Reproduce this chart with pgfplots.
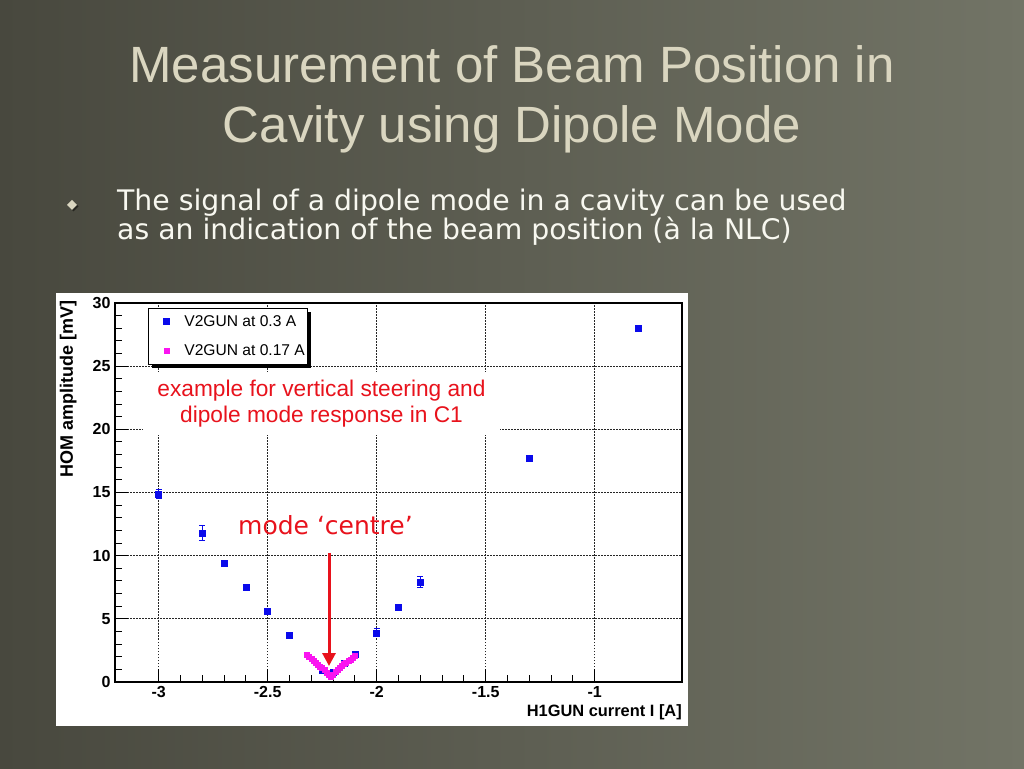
\documentclass[border=0pt]{standalone}
\usepackage{pgfplots}
\pgfplotsset{compat=1.18}
\usepackage{fontspec}
\setmainfont{Liberation Sans}
\newfontfamily\verd{DejaVu Sans}
\usetikzlibrary{shadows, arrows.meta}

\definecolor{bgL}{RGB}{72,72,62}
\definecolor{bgR}{RGB}{114,116,102}
\definecolor{titlec}{RGB}{218,214,192}
\definecolor{shadowc}{RGB}{38,38,32}
\definecolor{bullc}{RGB}{248,248,240}
\definecolor{rootred}{RGB}{232,18,28}
\definecolor{rootblue}{RGB}{10,10,235}
\definecolor{rootmag}{RGB}{250,20,240}

% HOM amplitude vs H1GUN current, V2GUN at 0.3 A
\pgfplotstableread{
x     y     e
-3.0  14.9  0.35
-2.8  11.8  0.6
-2.7  9.4   0.2
-2.6  7.5   0.12
-2.5  5.6   0.2
-2.4  3.7   0.2
-2.25 0.9   0.15
-2.2  0.8   0.15
-2.15 1.5   0.15
-2.1  2.2   0.25
-2.0  3.9   0.3
-1.9  5.9   0.2
-1.8  7.9   0.45
-1.3  17.7  0.1
-0.8  28.0  0.15
}\vgunA

% V2GUN at 0.17 A, fine scan around the minimum
\pgfplotstableread{
x      y
-2.32  2.2
-2.31  2.0
-2.30  1.85
-2.29  1.7
-2.28  1.55
-2.27  1.4
-2.26  1.25
-2.25  1.1
-2.24  0.95
-2.23  0.75
-2.22  0.55
-2.21  0.45
-2.20  0.6
-2.19  0.8
-2.18  1.0
-2.17  1.15
-2.16  1.3
-2.15  1.45
-2.14  1.55
-2.13  1.65
-2.12  1.8
-2.11  1.9
-2.10  2.05
}\vgunB

\begin{document}
\begin{tikzpicture}
% slide background (1pt = 1px)
\shade[left color=bgL, right color=bgR] (0pt,0pt) rectangle (1024pt,768pt);
\useasboundingbox (0pt,0pt) rectangle (1024pt,768pt);

% title
\begin{scope}[font=\fontsize{51}{60}\selectfont]
\node[anchor=base, text=titlec] at (512pt,685pt) {Measurement of Beam Position in};
\node[anchor=base, text=titlec] at (512pt,625pt) {Cavity using Dipole Mode};
\end{scope}

% bullet
\fill[shadowc] (73.5pt,566.5pt) -- (78.5pt,561.5pt) -- (73.5pt,556.5pt) -- (68.5pt,561.5pt) -- cycle;
\fill[titlec] (72pt,568pt) -- (77pt,563pt) -- (72pt,558pt) -- (67pt,563pt) -- cycle;
\begin{scope}[font=\verd\fontsize{28.3}{30}\selectfont, inner sep=0pt]
\node[anchor=base west, text=bullc] at (117pt,557pt) {The signal of a dipole mode in a cavity can be used};
\node[anchor=base west, text=bullc] at (117pt,528pt) {as an indication of the beam position (à la NLC)};
\end{scope}

% white panel of the pasted chart
\fill[white] (56pt,42pt) rectangle (688pt,475pt);

\begin{axis}[
  at={(115pt,86pt)}, anchor=south west,
  scale only axis, width=567pt, height=379pt,
  xmin=-3.2, xmax=-0.6, ymin=0, ymax=30,
  xtick={-3,-2.5,-2,-1.5,-1},
  xticklabels={-3,-2.5,-2,-1.5,-1},
  ytick={0,5,10,15,20,25,30},
  yticklabels={0,5,10,15,20,25,30},
  minor x tick num=4, minor y tick num=4,
  xtick pos=bottom, ytick pos=left,
  tick align=inside,
  major tick length=13pt, minor tick length=7pt,
  tick style={black, line width=1pt},
  axis line style={line width=1.5pt},
  grid=major,
  major grid style={black!85, line width=0.9pt, dash pattern=on 1.5pt off 1.5pt},
  ticklabel style={font=\fontsize{16}{16}\selectfont\bfseries},
  xticklabel style={yshift=-1pt},
  yticklabel style={xshift=-1pt},
  xlabel={H1GUN current I [A]},
  xlabel style={at={(axis description cs:1,-0.0923)}, anchor=base east,
    inner sep=0pt, font=\fontsize{16.4}{16.4}\selectfont\bfseries},
  ylabel={HOM amplitude [mV]},
  ylabel style={at={(axis description cs:-0.0741,1.008)}, anchor=base east,
    inner sep=0pt, font=\fontsize{18}{18}\selectfont\bfseries},
  legend style={at={(axis description cs:0.058,0.987)}, anchor=north west,
    draw=black, line width=1pt, fill=white,
    drop shadow={fill=black, opacity=1, shadow xshift=3.5pt, shadow yshift=-3.5pt},
    font=\fontsize{15.6}{15.6}\selectfont,
    inner xsep=2pt, inner ysep=4pt, row sep=11pt,
    nodes={inner xsep=1pt, inner ysep=3pt}},
  legend cell align=left,
  legend image code/.code={\path (-16pt,0pt) (16pt,0pt);
    \draw[#1] plot coordinates {(0pt,0pt)};},
]
\addplot[only marks, mark=square*, mark size=3pt, color=rootblue,
  error bars/.cd, y dir=both, y explicit,
  error mark=-,
  error bar style={line width=1pt, rootblue},
  error mark options={rotate=90, line width=1pt, mark size=3pt, rootblue}]
  table[x=x, y=y, y error=e] {\vgunA};
\addlegendentry{V2GUN at 0.3 A}
\addplot[only marks, mark=square*, mark size=2.5pt, color=rootmag]
  table[x=x, y=y] {\vgunB};
\addlegendentry{V2GUN at 0.17 A}
\end{axis}

% annotation box over the grid
\fill[white] (143pt,333pt) rectangle (500pt,396pt);
\node[text=rootred, align=center, font=\fontsize{22.7}{26}\selectfont] at (321.5pt,364.5pt)
  {example for vertical steering and\\dipole mode response in C1};

\node[anchor=base, text=rootred, font=\verd\fontsize{25}{30}\selectfont] at (325.5pt,233pt) {mode ‘centre’};
\draw[rootred, line width=3pt, -{Triangle[width=13pt,length=13pt]}] (329pt,215pt) -- (329pt,102pt);
\end{tikzpicture}
\end{document}
